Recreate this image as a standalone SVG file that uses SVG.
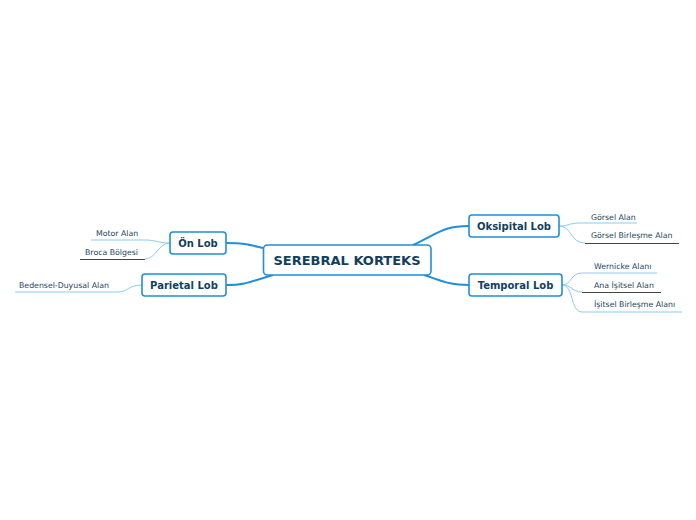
<svg xmlns="http://www.w3.org/2000/svg" width="696" height="520" viewBox="0 0 696 520">
<style>
.node rect{fill:#fff;stroke:#1f8fdb;stroke-width:1.6}
.nt{font-family:"DejaVu Sans",Verdana,sans-serif;font-weight:bold;fill:#123f5e;text-anchor:middle;dominant-baseline:central}
.lt{font-family:"DejaVu Sans",Verdana,sans-serif;font-size:7.8px;fill:#24445e}
.main{fill:none;stroke:#1f8fdb;stroke-width:2}
.sub{fill:none;stroke:#8ccbf1;stroke-width:1}
.dark{fill:none;stroke:#444;stroke-width:1}
</style>
<rect width="696" height="520" fill="#fff"/>
<g id="connectors">
<path class="main" d="M263,248 C250,245 245,243 226,243"/>
<path class="main" d="M273,275 C250,282 245,285 226,285"/>
<path class="main" d="M413,245 C440,232 445,226 469,226"/>
<path class="main" d="M424,275 C445,282 450,285 469,285"/>
<path class="sub" d="M170,243 C158,243 156,240 145,240 L91,240"/>
<path class="sub" d="M170,243 C158,243 156,259 145,259"/>
<path class="sub" d="M142,285 C128,285 128,292 118,292 L15,292"/>
<path class="sub" d="M559,226 C570,226 568,223 580,223 L637,223"/>
<path class="sub" d="M559,226 C572,226 570,243 585,243"/>
<path class="sub" d="M562,285 C572,285 570,273 582,273 L657,273"/>
<path class="sub" d="M562,285 C572,285 572,292 582,292"/>
<path class="sub" d="M562,285 C574,285 570,312 582,312 L682,312"/>
<path class="dark" d="M80,259.5 L145,259.5"/>
<path class="dark" d="M585,243.5 L679,243.5"/>
<path class="dark" d="M582,292.5 L661,292.5"/>
</g>
<g id="center" class="node"><rect x="263.5" y="245" width="167.5" height="30" rx="4"/><text class="nt" x="347" y="260.5" font-size="13">SEREBRAL KORTEKS</text></g>
<g id="on-lob" class="node"><rect x="170" y="232" width="56" height="22" rx="3"/><text class="nt" x="198" y="243" font-size="10">Ön Lob</text></g>
<g id="parietal-lob" class="node"><rect x="142" y="274" width="84" height="22" rx="3"/><text class="nt" x="184" y="285" font-size="10">Parietal Lob</text></g>
<g id="oksipital-lob" class="node"><rect x="469" y="215" width="90" height="22" rx="3"/><text class="nt" x="514" y="226" font-size="10">Oksipital Lob</text></g>
<g id="temporal-lob" class="node"><rect x="469" y="274" width="93" height="22" rx="3"/><text class="nt" x="515.5" y="285" font-size="10">Temporal Lob</text></g>
<g id="motor-alan"><text class="lt" x="96" y="236">Motor Alan</text></g>
<g id="broca"><text class="lt" x="85" y="255">Broca Bölgesi</text></g>
<g id="bedensel"><text class="lt" x="19" y="288">Bedensel-Duyusal Alan</text></g>
<g id="gorsel-alan"><text class="lt" x="591" y="219.5">Görsel Alan</text></g>
<g id="gorsel-birlesme"><text class="lt" x="591" y="238">Görsel Birleşme Alan</text></g>
<g id="wernicke"><text class="lt" x="594" y="269">Wernicke Alanı</text></g>
<g id="ana-isitsel"><text class="lt" x="594" y="288">Ana İşitsel Alan</text></g>
<g id="isitsel-birlesme"><text class="lt" x="594" y="307">İşitsel Birleşme Alanı</text></g>
</svg>
